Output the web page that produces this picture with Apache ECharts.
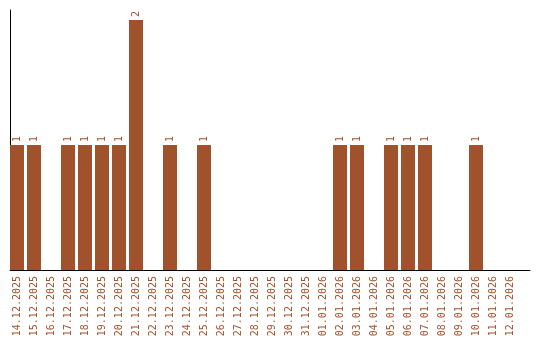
<!DOCTYPE html>
<html><head><meta charset="utf-8">
<script src="https://cdn.jsdelivr.net/npm/echarts@6/dist/echarts.min.js"></script>
<style>html,body{margin:0;padding:0;background:#fff}#c{width:540px;height:340px}</style>
</head><body><div id="c"></div>
<script>
const categories = ["14.12.2025","15.12.2025","16.12.2025","17.12.2025","18.12.2025","19.12.2025","20.12.2025","21.12.2025","22.12.2025","23.12.2025","24.12.2025","25.12.2025","26.12.2025","27.12.2025","28.12.2025","29.12.2025","30.12.2025","31.12.2025","01.01.2026","02.01.2026","03.01.2026","04.01.2026","05.01.2026","06.01.2026","07.01.2026","08.01.2026","09.01.2026","10.01.2026","11.01.2026","12.01.2026"];
const values = [1,1,0,1,1,1,1,2,0,1,0,1,0,0,0,0,0,0,0,1,1,0,1,1,1,0,0,1,0,0];
const color = '#A0522D';
const font = '"DejaVu Sans Mono", monospace';
const chart = echarts.init(document.getElementById('c'));
const positions = categories.map((c, i) => i);
chart.setOption({
  animation: false,
  grid: {left: 10, right: 10, top: 10, bottom: 70, containLabel: false},
  xAxis: {
    type: 'value', min: -7/17, max: -7/17 + 520/17,
    splitLine: {show: false},
    axisTick: {show: false},
    axisLine: {show: true, onZero: false, lineStyle: {color: '#000', width: 1}},
    axisLabel: {
      customValues: positions, rotate: 90, margin: 6,
      color: color, fontFamily: font, fontSize: 10,
      formatter: v => categories[Math.round(v)]
    }
  },
  yAxis: {
    type: 'value', min: 0, max: 2.08,
    splitLine: {show: false}, axisTick: {show: false}, axisLabel: {show: false},
    axisLine: {show: true, onZero: false, lineStyle: {color: '#000', width: 1}}
  },
  series: [{
    type: 'bar', barWidth: 14,
    data: values.map((v, i) => [i, v]),
    itemStyle: {color: color},
    label: {
      show: true, position: 'top', rotate: 90, align: 'left', verticalAlign: 'middle',
      distance: 3, color: color, fontFamily: font, fontSize: 10,
      formatter: p => p.value[1] ? String(p.value[1]) : ''
    }
  }]
});
</script></body></html>
